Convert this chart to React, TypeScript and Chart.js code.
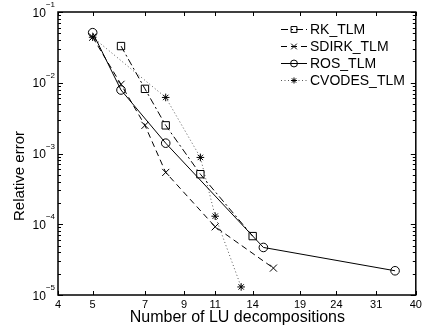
import React, { useEffect, useRef } from 'react';
import { Chart, registerables } from 'chart.js';

Chart.register(...registerables);

const FONT = '"Liberation Sans", Arial, Helvetica, sans-serif';

// Axis ticks
const xTickValues = [4, 5, 7, 9, 11, 14, 19, 24, 31, 40];
const yDecades = [-5, -4, -3, -2, -1];
const xTitle = 'Number of LU decompositions';
const yTitle = 'Relative error';

// Series
const seriesNames = ['RK_TLM', 'SDIRK_TLM', 'ROS_TLM', 'CVODES_TLM'];

const rkX = [6, 7, 8, 10, 14];
const rkY = [0.033, 0.0082, 0.0025, 5.1e-4, 6.8e-5];

const sdirkX = [5, 6, 7, 8, 11, 16];
const sdirkY = [0.044, 0.0095, 0.0025, 5.4e-4, 9.2e-5, 2.4e-5];

const rosX = [5, 6, 8, 15, 35];
const rosY = [0.051, 0.0079, 0.0014, 4.7e-5, 2.2e-5];

const cvodesX = [5, 8, 10, 11, 13];
const cvodesY = [0.044, 0.0062, 8.8e-4, 1.3e-4, 1.3e-5];

const styles = [
  { dash: [7, 3, 2, 3], point: 'rect', radius: 5.2, color: '#000', lw: 1 },
  { dash: [6, 4], point: 'crossRot', radius: 5, color: '#000', lw: 1 },
  { dash: [], point: 'circle', radius: 4.3, color: '#000', lw: 1 },
  { dash: [1, 2.5], point: 'star', radius: 3.8, color: '#555', lw: 1 },
];

const toPts = (xs: number[], ys: number[]) => xs.map((x, i) => ({ x, y: ys[i] }));

function drawMarker(ctx: CanvasRenderingContext2D, style: string, x: number, y: number, r: number) {
  ctx.beginPath();
  if (style === 'rect') {
    const s = r * Math.SQRT1_2;
    ctx.rect(x - s, y - s, 2 * s, 2 * s);
  } else if (style === 'circle') {
    ctx.arc(x, y, r, 0, Math.PI * 2);
  } else if (style === 'crossRot') {
    const s = r * Math.SQRT1_2;
    ctx.moveTo(x - s, y - s); ctx.lineTo(x + s, y + s);
    ctx.moveTo(x - s, y + s); ctx.lineTo(x + s, y - s);
  } else if (style === 'star') {
    const s = r * Math.SQRT1_2;
    ctx.moveTo(x, y - r); ctx.lineTo(x, y + r);
    ctx.moveTo(x - r, y); ctx.lineTo(x + r, y);
    ctx.moveTo(x - s, y - s); ctx.lineTo(x + s, y + s);
    ctx.moveTo(x - s, y + s); ctx.lineTo(x + s, y - s);
  }
  ctx.stroke();
}

const axesPlugin = {
  id: 'matlabAxes',
  afterDraw(chart: any) {
    const { ctx, chartArea: a, scales } = chart;
    const xs = scales.x;
    const ys = scales.y;
    ctx.save();
    ctx.strokeStyle = '#000';
    ctx.lineWidth = 1;
    ctx.setLineDash([]);
    ctx.beginPath();
    xTickValues.forEach((v) => {
      const px = Math.round(xs.getPixelForValue(v)) + 0.5;
      ctx.moveTo(px, a.bottom); ctx.lineTo(px, a.bottom - 4);
      ctx.moveTo(px, a.top); ctx.lineTo(px, a.top + 4);
    });
    yDecades.forEach((d) => {
      const maxM = d === -1 ? 1 : 9;
      for (let m = 1; m <= maxM; m++) {
        const py = Math.round(ys.getPixelForValue(m * Math.pow(10, d))) + 0.5;
        const len = m === 1 ? 5 : 3;
        ctx.moveTo(a.left, py); ctx.lineTo(a.left + len, py);
        ctx.moveTo(a.right, py); ctx.lineTo(a.right - len, py);
      }
    });
    ctx.stroke();

    ctx.lineWidth = 1.5;
    ctx.strokeRect(a.left, a.top, a.right - a.left, a.bottom - a.top);

    ctx.fillStyle = '#000';

    // x tick labels
    ctx.font = `11px ${FONT}`;
    ctx.textAlign = 'center';
    ctx.textBaseline = 'alphabetic';
    xTickValues.forEach((v) => {
      ctx.fillText(String(v), xs.getPixelForValue(v), a.bottom + 12.5);
    });

    // x title
    ctx.font = `16px ${FONT}`;
    ctx.fillText(xTitle, (a.left + a.right) / 2 + 0.5, 322);

    // y tick labels 10^n
    yDecades.forEach((d) => {
      const py = ys.getPixelForValue(Math.pow(10, d));
      const sup = '\u2212' + String(-d);
      ctx.font = `8px ${FONT}`;
      const wSup = ctx.measureText(sup).width;
      ctx.font = `12px ${FONT}`;
      const wBase = ctx.measureText('10').width;
      const right = a.left - 3;
      ctx.textAlign = 'left';
      ctx.fillText('10', right - wSup - wBase, py + 4.5);
      ctx.font = `8px ${FONT}`;
      ctx.fillText(sup, right - wSup, py - 5);
    });

    // y title
    ctx.save();
    ctx.translate(24, 176);
    ctx.rotate(-Math.PI / 2);
    ctx.font = `15px ${FONT}`;
    ctx.textAlign = 'center';
    ctx.textBaseline = 'alphabetic';
    ctx.fillText(yTitle, 0, 0);
    ctx.restore();

    // legend
    const rowY = [29, 46, 63, 80];
    seriesNames.forEach((name, i) => {
      const st = styles[i];
      const y = rowY[i];
      ctx.strokeStyle = st.color;
      ctx.lineWidth = st.lw;
      ctx.setLineDash(st.dash);
      ctx.beginPath();
      ctx.moveTo(281, y + 0.5);
      ctx.lineTo(307, y + 0.5);
      ctx.stroke();
      ctx.setLineDash([]);
      ctx.strokeStyle = '#000';
      drawMarker(ctx, st.point, 294, y + 0.5, st.radius * 0.8);
      ctx.fillStyle = '#000';
      ctx.font = `14px ${FONT}`;
      ctx.textAlign = 'left';
      ctx.textBaseline = 'middle';
      ctx.fillText(name, 310, y + 1);
    });
    ctx.restore();
  },
};

export default function App() {
  const ref = useRef<HTMLCanvasElement | null>(null);

  useEffect(() => {
    document.body.style.margin = '0';
    if (!ref.current) return;
    const allX = [rkX, sdirkX, rosX, cvodesX];
    const allY = [rkY, sdirkY, rosY, cvodesY];
    const chart = new Chart(ref.current, {
      type: 'line',
      data: {
        datasets: seriesNames.map((name, i) => ({
          label: name,
          data: toPts(allX[i], allY[i]),
          borderColor: styles[i].color,
          borderWidth: styles[i].lw,
          borderDash: styles[i].dash,
          pointStyle: styles[i].point as any,
          pointRadius: styles[i].radius,
          pointBorderColor: '#000',
          pointBackgroundColor: 'rgba(0,0,0,0)',
          pointBorderWidth: 1,
          fill: false,
          tension: 0,
          showLine: true,
        })),
      },
      options: {
        responsive: false,
        animation: false,
        layout: { padding: { top: 12, right: 6, left: 0, bottom: 0 } },
        plugins: { legend: { display: false }, tooltip: { enabled: false } },
        scales: {
          x: {
            type: 'logarithmic',
            min: 4,
            max: 40,
            grid: { display: false },
            border: { display: false },
            ticks: { display: false },
            afterBuildTicks: (scale: any) => {
              scale.ticks = xTickValues.map((v) => ({ value: v }));
            },
            afterFit: (scale: any) => {
              scale.height = 40;
              scale.paddingLeft = 0;
              scale.paddingRight = 0;
            },
          },
          y: {
            type: 'logarithmic',
            min: 1e-5,
            max: 1e-1,
            grid: { display: false },
            border: { display: false },
            ticks: { display: false },
            afterBuildTicks: (scale: any) => {
              scale.ticks = yDecades.map((d) => ({ value: Math.pow(10, d) }));
            },
            afterFit: (scale: any) => {
              scale.width = 58;
              scale.paddingTop = 0;
              scale.paddingBottom = 0;
            },
          },
        },
      },
      plugins: [axesPlugin],
    });
    return () => chart.destroy();
  }, []);

  return (
    <div style={{ width: 422, height: 335, position: 'relative' }}>
      <canvas ref={ref} width={422} height={335} />
    </div>
  );
}
